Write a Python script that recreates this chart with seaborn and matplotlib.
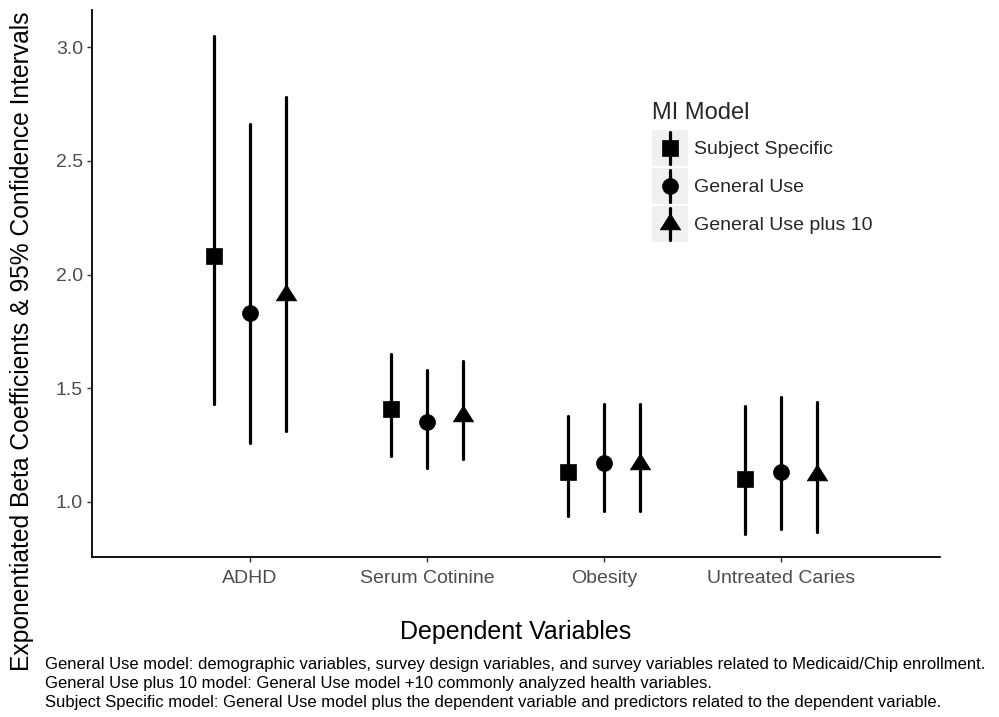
import numpy as np
import pandas as pd
import matplotlib
matplotlib.use("Agg")
import matplotlib.pyplot as plt
import seaborn as sns
from matplotlib.lines import Line2D
from matplotlib.patches import Rectangle
from matplotlib.legend_handler import HandlerBase
from matplotlib import font_manager

categories = ["ADHD", "Serum Cotinine", "Obesity", "Untreated Caries"]
models = ["Subject Specific", "General Use", "General Use plus 10"]

est_ss = [2.08, 1.41, 1.13, 1.10]
lo_ss = [1.43, 1.20, 0.94, 0.86]
hi_ss = [3.05, 1.65, 1.38, 1.42]

est_gu = [1.83, 1.35, 1.17, 1.13]
lo_gu = [1.26, 1.15, 0.96, 0.88]
hi_gu = [2.66, 1.58, 1.43, 1.46]

est_g10 = [1.91, 1.38, 1.165, 1.12]
lo_g10 = [1.31, 1.19, 0.96, 0.87]
hi_g10 = [2.78, 1.62, 1.43, 1.44]

y_ticks = [1.0, 1.5, 2.0, 2.5, 3.0]
caption_lines = [
    "General Use model: demographic variables, survey design variables, and survey variables related to Medicaid/Chip enrollment.",
    "General Use plus 10 model: General Use model +10 commonly analyzed health variables.",
    "Subject Specific model: General Use model plus the dependent variable and predictors related to the dependent variable.",
]

sns.set_theme(style="white")
plt.rcParams["font.family"] = ["Liberation Sans", "DejaVu Sans"]

available = {f.name for f in font_manager.fontManager.ttflist}
narrow = "Liberation Sans Narrow" if "Liberation Sans Narrow" in available else "Liberation Sans"

# triangle marker with centroid at origin (like R's pch 17)
tri = [(0.0, 1.0), (-0.95, -0.5), (0.95, -0.5), (0.0, 1.0)]
markers = ["s", "o", tri]
msizes = [11.5, 11.5, 15.5]

rows = []
for model, est, lo, hi in [(models[0], est_ss, lo_ss, hi_ss),
                           (models[1], est_gu, lo_gu, hi_gu),
                           (models[2], est_g10, lo_g10, hi_g10)]:
    for c, e, l, h in zip(categories, est, lo, hi):
        for v in (l, e, h):
            rows.append({"Dependent Variables": c, "MI Model": model, "value": v})
df = pd.DataFrame(rows)

fig = plt.figure(figsize=(9.99, 7.17), dpi=100)
ax = fig.add_axes([92 / 999, 1 - 557 / 717, (940 - 92) / 999, (557 - 10) / 717])

sns.pointplot(data=df, x="Dependent Variables", y="value", hue="MI Model",
              order=categories, hue_order=models,
              estimator="median", errorbar=lambda v: (np.min(v), np.max(v)),
              markers=markers, linestyle="none", dodge=0.41,
              palette=["black"] * 3, markersize=11.5, err_kws={"linewidth": 2.3},
              ax=ax)

marker_lines = [ln for ln in ax.lines if ln.get_marker() not in (None, "None", "", " ")]
for ln in marker_lines:
    m = ln.get_marker()
    ln.set_markeredgewidth(0.5)
    if m == "s":
        ln.set_markersize(msizes[0])
    elif m == "o":
        ln.set_markersize(msizes[1])
    else:
        ln.set_markersize(msizes[2])
    ln.set_zorder(5)

ax.set_xlim(-0.893, 3.898)
ax.set_ylim(0.758, 3.163)
ax.set_yticks(y_ticks)
ax.set_yticklabels([f"{t:.1f}" for t in y_ticks])

for s in ["top", "right"]:
    ax.spines[s].set_visible(False)
for s in ["left", "bottom"]:
    ax.spines[s].set_color("black")
    ax.spines[s].set_linewidth(1.3)
ax.tick_params(axis="both", which="major", length=3.5, width=1.0, color="#333333",
               labelsize=14, labelcolor="#4d4d4d", direction="out",
               left=True, bottom=True)
ax.tick_params(axis="x", pad=6)
ax.tick_params(axis="y", pad=3)
ax.set_xlabel("Dependent Variables", fontsize=18, color="black")
ax.xaxis.set_label_coords(0.5, (557 - 632) / 547)
ax.xaxis.label.set_va("center")
ax.set_ylabel("")

fig.text(22 / 999, 1 - 341 / 717,
         "Exponentiated Beta Coefficients & 95% Confidence Intervals",
         rotation=90, ha="center", va="center", fontsize=17.7, color="black")

for i, line in enumerate(caption_lines):
    fig.text(45 / 999, 1 - (664 + 19.5 * i) / 717, line, ha="left", va="center",
             fontsize=12, color="black", family=[narrow, "DejaVu Sans"])


class KeyHandler(HandlerBase):
    def create_artists(self, legend, orig_handle, xdescent, ydescent, width, height,
                       fontsize, trans):
        x0, y0 = -xdescent, -ydescent
        bg = Rectangle((x0, y0), width, height, facecolor="#f0f0f0",
                       edgecolor="none", transform=trans)
        cx = x0 + width / 2
        cy = y0 + height / 2
        vl = Line2D([cx, cx], [y0 + height * 0.06, y0 + height * 0.94],
                    color="black", lw=2.3, transform=trans)
        mk = Line2D([cx], [cy], marker=orig_handle.get_marker(),
                    markersize=orig_handle.get_markersize(), color="black",
                    markeredgewidth=0.5, linestyle="none", transform=trans)
        return [bg, vl, mk]


handles = [Line2D([], [], marker=m, markersize=s, color="black", linestyle="none")
           for m, s in zip(markers, msizes)]
old = ax.get_legend()
if old is not None:
    old.remove()
leg = ax.legend(handles, models, title="MI Model", loc="upper left",
                bbox_to_anchor=((652 - 92) / (940 - 92), (557 - 102) / (557 - 10)),
                frameon=False, fontsize=14, title_fontsize=17,
                handler_map={Line2D: KeyHandler()},
                handlelength=1.85, handleheight=2.47, labelspacing=0.1,
                handletextpad=0.3, borderpad=0, borderaxespad=0)
leg._legend_box.align = "left"
leg._legend_box.sep = 4.3

fig.savefig("out.png", dpi=100)
